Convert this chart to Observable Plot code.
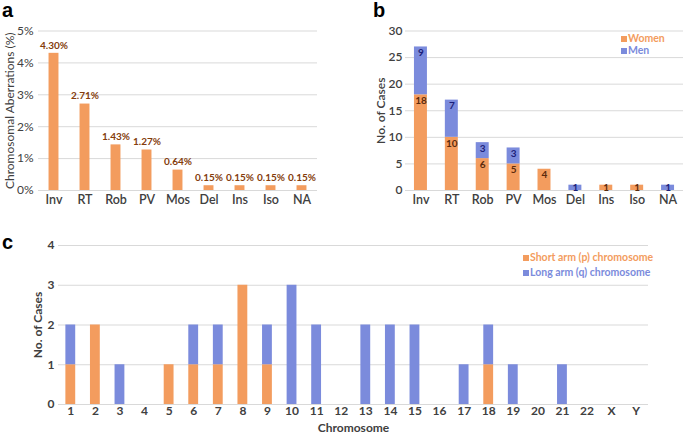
<!DOCTYPE html>
<html><head><meta charset="utf-8">
<script src="https://cdn.jsdelivr.net/npm/d3@7"></script>
<script src="https://cdn.jsdelivr.net/npm/@observablehq/plot@0.6"></script>
<style>
body{margin:0;background:#fff;}
#root{position:relative;width:685px;height:433px;font-family:Lato,"Open Sans",sans-serif;overflow:hidden;}
.panel{position:absolute;}
.letter{position:absolute;font-family:"Liberation Sans",Arial,sans-serif;font-weight:bold;font-size:20px;line-height:1;color:#000;}
.leg{position:absolute;font-family:Lato,sans-serif;font-weight:700;font-size:10.5px;line-height:1;white-space:nowrap;}
.sq{display:inline-block;width:6px;height:6px;margin-right:1px;vertical-align:0px;}
</style></head><body><div id="root"></div>
<script>
const categories = ["Inv","RT","Rob","PV","Mos","Del","Ins","Iso","NA"];
const aberrationPct = [4.30,2.71,1.43,1.27,0.64,0.15,0.15,0.15,0.15];
const women = [18,10,6,5,4,0,1,1,0];
const men = [9,7,3,3,0,1,0,0,1];
const chromosomes = ["1","2","3","4","5","6","7","8","9","10","11","12","13","14","15","16","17","18","19","20","21","22","X","Y"];
const shortArm = [1,2,0,0,1,1,1,3,1,0,0,0,0,0,0,0,0,1,0,0,0,0,0,0];
const longArm  = [1,0,1,0,0,1,1,0,1,3,2,0,2,2,2,0,1,1,1,0,1,0,0,0];

const ORANGE = "#f39c5e", BLUE = "#7b8bdc", GRID = "#d9d9d9", INK = "#404040";
const root = document.getElementById("root");
function place(el, left, top){ el.classList.add("panel"); el.style.left = left+"px"; el.style.top = top+"px"; root.appendChild(el); }
function html(cls, left, top, inner){ const d = document.createElement("div"); d.className = cls; d.style.left = left+"px"; d.style.top = top+"px"; d.innerHTML = inner; root.appendChild(d); }

// Panel a
const dataA = categories.map((c,i)=>({cat:c, v:aberrationPct[i]}));
const pa = Plot.plot({
  width:340, height:210, marginLeft:38, marginRight:23, marginTop:30.5, marginBottom:20,
  style:{fontFamily:"Lato, sans-serif", color:INK, background:"transparent"},
  x:{domain:categories, paddingInner:0.68, paddingOuter:0.34, round:false},
  y:{domain:[0,5]},
  marks:[
    Plot.gridY([0,1,2,3,4,5], {stroke:GRID, strokeOpacity:1}),
    Plot.barY(dataA, {x:"cat", y:"v", fill:ORANGE}),
    Plot.text(dataA, {x:"cat", y:"v", text:d=>d.v.toFixed(2)+"%", dy:-8, fill:"#843c0c", fontWeight:"bold", fontSize:10}),
    Plot.axisY([0,1,2,3,4,5], {tickSize:0, tickPadding:5, fontSize:12, tickFormat:d=>d+"%", label:"Chromosomal Aberrations (%)", labelAnchor:"center", labelOffset:33, labelArrow:"none"}),
    Plot.axisX({tickSize:0, tickPadding:5, fontSize:12.5, fontWeight:600, label:null})
  ]
});
place(pa, 0, 0);

// Panel b
const dataB = [];
categories.forEach((c,i)=>dataB.push({cat:c, sex:"Women", n:women[i]}));
categories.forEach((c,i)=>dataB.push({cat:c, sex:"Men", n:men[i]}));
const labB = categories.flatMap((c,i)=>[
  {cat:c, sex:"Women", n:women[i], top:women[i]},
  {cat:c, sex:"Men", n:men[i], top:women[i]+men[i]}
]).filter(d=>d.n>0);
const pb = Plot.plot({
  width:345, height:210, marginLeft:65, marginRight:2, marginTop:30.5, marginBottom:20,
  style:{fontFamily:"Lato, sans-serif", color:INK, background:"transparent"},
  x:{domain:categories, paddingInner:0.58, paddingOuter:0.29, round:false},
  y:{domain:[0,30]},
  color:{domain:["Women","Men"], range:[ORANGE,BLUE]},
  marks:[
    Plot.gridY([0,5,10,15,20,25,30], {stroke:GRID, strokeOpacity:1}),
    Plot.barY(dataB, {x:"cat", y:"n", fill:"sex", order:null}),
    Plot.text(labB.filter(d=>d.n>=2), {x:"cat", y:"top", text:"n", dy:6, fill:d=>d.sex==="Women"?"#5b2a0c":"#1c1f7a", fontWeight:"bold", fontSize:10}),
    Plot.text(labB.filter(d=>d.n<2), {x:"cat", y:"top", text:"n", dy:2.5, fill:d=>d.sex==="Women"?"#5b2a0c":"#1c1f7a", fontWeight:"bold", fontSize:10}),
    Plot.axisY([0,5,10,15,20,25,30], {tickSize:0, tickPadding:3, fontSize:12, fontWeight:600, label:"No. of Cases", labelAnchor:"center", labelOffset:29, labelArrow:"none"}),
    Plot.axisX({tickSize:0, tickPadding:5, fontSize:12.5, fontWeight:600, label:null})
  ]
});
place(pb, 340, 0);

// Panel c
const dataC = [];
chromosomes.forEach((c,i)=>dataC.push({chr:c, arm:"Short arm (p) chromosome", n:shortArm[i]}));
chromosomes.forEach((c,i)=>dataC.push({chr:c, arm:"Long arm (q) chromosome", n:longArm[i]}));
const pc = Plot.plot({
  width:685, height:203, marginLeft:58, marginRight:37, marginTop:15, marginBottom:29,
  style:{fontFamily:"Lato, sans-serif", color:INK, background:"transparent"},
  x:{domain:chromosomes, paddingInner:0.6, paddingOuter:0.3, round:false},
  y:{domain:[0,4]},
  color:{domain:["Short arm (p) chromosome","Long arm (q) chromosome"], range:[ORANGE,BLUE]},
  marks:[
    Plot.gridY([0,1,2,3,4], {stroke:GRID, strokeOpacity:1}),
    Plot.barY(dataC, {x:"chr", y:"n", fill:"arm", order:null}),
    Plot.axisY([0,1,2,3,4], {tickSize:0, tickPadding:4, fontSize:12, fontWeight:700, label:"No. of Cases", labelAnchor:"center", labelOffset:25, labelArrow:"none"}),
    Plot.axisX({tickSize:0, tickPadding:2, fontSize:12, fontWeight:700, label:"Chromosome", labelAnchor:"center", labelOffset:27, labelArrow:"none"})
  ]
});
place(pc, 0, 230);

// letters
html("letter", 2, 0, "a");
html("letter", 373, 0, "b");
html("letter", 2, 232, "c");
// legends
html("leg", 621, 33, `<span class="sq" style="background:${ORANGE}"></span><span style="color:${ORANGE}">Women</span>`);
html("leg", 621, 45, `<span class="sq" style="background:${BLUE}"></span><span style="color:${BLUE}">Men</span>`);
html("leg", 523, 252, `<span class="sq" style="background:${ORANGE}"></span><span style="color:${ORANGE}">Short arm (p) chromosome</span>`);
html("leg", 523, 267, `<span class="sq" style="background:${BLUE}"></span><span style="color:${BLUE}">Long arm (q) chromosome</span>`);
</script></body></html>
